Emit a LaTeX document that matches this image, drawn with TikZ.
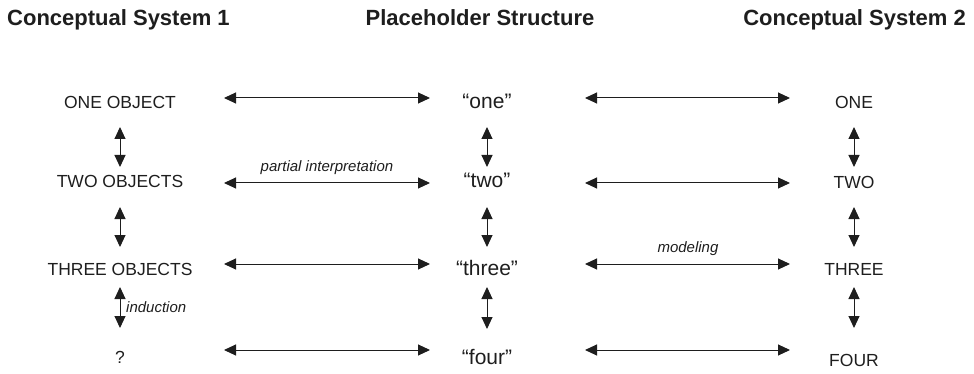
\documentclass[tikz,border=0pt]{standalone}
\usepackage{fontspec}
\setmainfont{Liberation Sans}
\usetikzlibrary{arrows.meta}
\definecolor{ink}{HTML}{1E1E1E}
\begin{document}
\begin{tikzpicture}[x=1pt,y=-1pt,
  every node/.style={inner sep=0pt, text=ink},
  title/.style={font=\fontsize{22}{24}\selectfont\bfseries},
  capt/.style={font=\fontsize{17.5}{20}\selectfont, anchor=base},
  quo/.style={font=\fontsize{21}{24}\selectfont, anchor=base},
  lab/.style={font=\fontsize{15}{18}\selectfont\itshape},
  arr/.style={{Triangle[length=12pt,width=11pt]}-{Triangle[length=12pt,width=11pt]}, line width=1pt, draw=ink},
  hl/.style={arr, shorten <=104pt, shorten >=57pt},
  hr/.style={arr, shorten <=98pt, shorten >=64pt}]
\useasboundingbox (0,0) rectangle (974,374);

% titles
\node[title, anchor=base west] (t1) at (7,26) {Conceptual System 1};
\node[title, anchor=base] (t2) at (480,26) {Placeholder Structure};
\node[title, anchor=base east] (t3) at (966,26) {Conceptual System 2};

% left column
\node[capt] (L1) at (120,109) {ONE OBJECT};
\node[capt] (L2) at (120,188) {TWO OBJECTS};
\node[capt] (L3) at (120,275) {THREE OBJECTS};
\node[capt] (L4) at (120,363) {?};

% middle column
\node[quo] (M1) at (487,109) {“one”};
\node[quo] (M2) at (487,188) {“two”};
\node[quo] (M3) at (487,275) {“three”};
\node[quo] (M4) at (487,364) {“four”};

% right column
\node[capt] (R1) at (854,109) {ONE};
\node[capt] (R2) at (854,189) {TWO};
\node[capt] (R3) at (854,275) {THREE};
\node[capt] (R4) at (854,366) {FOUR};

% horizontal arrows (each row at the height of its middle node)
\draw[hl] ([yshift=11pt]M1.base -| L1.base) -- ([yshift=11pt]M1.base);
\draw[hl] ([yshift=5pt]M2.base -| L2.base) -- ([yshift=5pt]M2.base);
\draw[hl] ([yshift=11pt]M3.base -| L3.base) -- ([yshift=11pt]M3.base);
\draw[hl] ([yshift=14pt]M4.base -| L4.base) -- ([yshift=14pt]M4.base);
\draw[hr] ([yshift=11pt]M1.base) -- ([yshift=11pt]M1.base -| R1.base);
\draw[hr] ([yshift=5pt]M2.base) -- ([yshift=5pt]M2.base -| R2.base);
\draw[hr] ([yshift=11pt]M3.base) -- ([yshift=11pt]M3.base -| R3.base);
\draw[hr] ([yshift=14pt]M4.base) -- ([yshift=14pt]M4.base -| R4.base);

% vertical arrows
\foreach \c in {L,M} {
  \draw[arr] ([yshift=-18pt]\c1.base) -- ([yshift=21pt]\c2.base);
  \draw[arr] ([yshift=-19pt]\c2.base) -- ([yshift=28pt]\c3.base);
  \draw[arr] ([yshift=-12pt]\c3.base) -- ([yshift=35pt]\c4.base);
}
\draw[arr] ([yshift=-18pt]R1.base) -- ([yshift=22pt]R2.base);
\draw[arr] ([yshift=-18pt]R2.base) -- ([yshift=28pt]R3.base);
\draw[arr] ([yshift=-12pt]R3.base) -- ([yshift=38pt]R4.base);

% labels
\node[lab, anchor=base] (pi) at (327,172) {partial interpretation};
\node[lab, anchor=base] (mo) at (688,252) {modeling};
\node[lab, anchor=base west] (in) at (126,312) {induction};
\end{tikzpicture}
\end{document}
